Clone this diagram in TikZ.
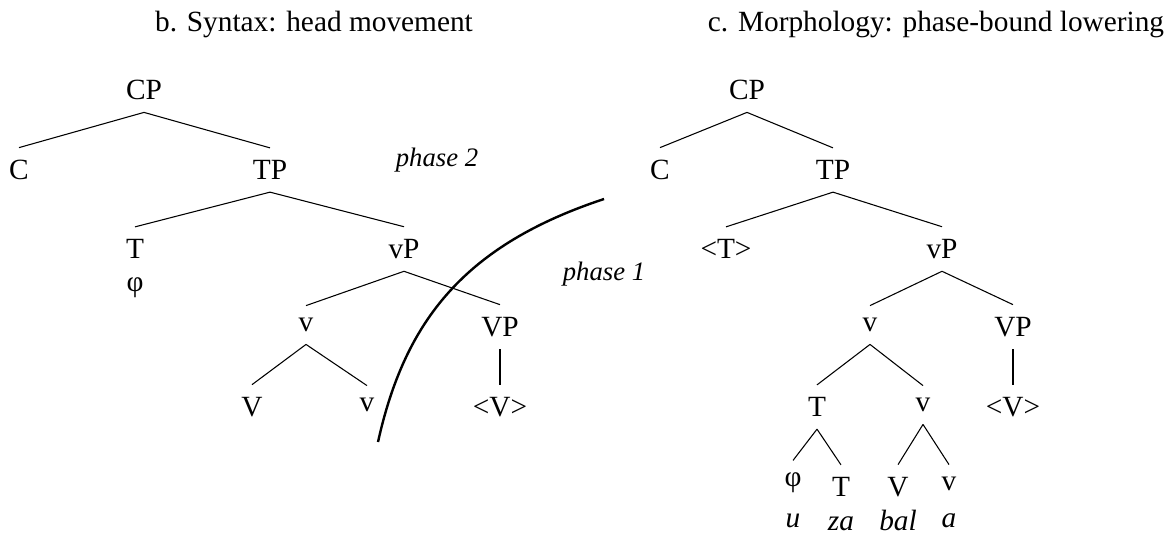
\documentclass[tikz,border=0pt]{standalone}
\usepackage{fontspec}
\setmainfont{Liberation Serif}
\usepackage{tikz}

\begin{document}
\begin{tikzpicture}[x=0.375pt,y=-0.375pt,
  cat/.style={inner sep=4.5pt,font=\fontsize{11}{13}\selectfont},
  gl/.style={inner sep=0pt,anchor=base,font=\fontsize{11}{13}\selectfont\itshape},
  lab/.style={inner sep=0pt,anchor=base,font=\fontsize{10}{12}\selectfont\itshape},
  ttl/.style={inner sep=0pt,anchor=base,font=\fontsize{11}{13}\selectfont},
  br/.style={line width=0.4pt},
  bd/.style={line width=0.9pt}]
  \useasboundingbox (0,0) rectangle (1168,533);
  % titles
  \node[ttl] (sttl) at (314,31) {b. Syntax: head movement};
  \node[ttl] (mttl) at (936,31) {c. Morphology: phase-bound lowering};
  % b. syntax tree
  \node[cat] (sCP) at (144,90) {CP};
  \node[cat] (sC) at (19,170) {C};
  \node[cat] (sTP) at (270,170) {TP};
  \node[cat] (sT) at (135,249) {T};
  \node[cat] (sphi) at (135,288) {φ};
  \node[cat] (svP) at (404,249) {vP};
  \node[cat] (sv) at (306,325) {v};
  \node[cat] (sVP) at (500,327) {VP};
  \node[cat] (sV) at (252,407) {V};
  \node[cat] (svv) at (367,405) {v};
  \node[cat] (sVtr) at (500,407) {<V>};
  \draw[br] (sCP.south) -- (sC.north);
  \draw[br] (sCP.south) -- (sTP.north);
  \draw[br] (sTP.south) -- (sT.north);
  \draw[br] (sTP.south) -- (svP.north);
  \draw[br] (svP.south) -- (sv.north);
  \draw[br] (svP.south) -- (sVP.north);
  \draw[br] (sv.south) -- (sV.north);
  \draw[br] (sv.south) -- (svv.north);
  \draw[br] (sVP.south) -- (sVtr.north);
  % phase boundary
  \node[lab] (ph2) at (437,166) {phase 2};
  \node[lab] (ph1) at (604,280) {phase 1};
  \draw[bd] (378,442) .. controls (405,320) and (465,245) .. (604,199);
  % c. morphology tree
  \node[cat] (mCP) at (747,90) {CP};
  \node[cat] (mC) at (660,170) {C};
  \node[cat] (mTP) at (833,170) {TP};
  \node[cat] (mTtr) at (726,249) {<T>};
  \node[cat] (mvP) at (942,249) {vP};
  \node[cat] (mv) at (870,325) {v};
  \node[cat] (mVP) at (1013,327) {VP};
  \node[cat] (mT) at (817,407) {T};
  \node[cat] (mvv) at (923,405) {v};
  \node[cat] (mVtr) at (1013,407) {<V>};
  \node[cat] (mphi) at (793,483) {φ};
  \node[cat] (mTT) at (841,487) {T};
  \node[cat] (mV) at (898,487) {V};
  \node[cat] (mvl) at (949,484) {v};
  \node[gl] (mu) at (793,527) {u};
  \node[gl] (mza) at (841,530) {za};
  \node[gl] (mbal) at (898,530) {bal};
  \node[gl] (ma) at (949,527) {a};
  \draw[br] (mCP.south) -- (mC.north);
  \draw[br] (mCP.south) -- (mTP.north);
  \draw[br] (mTP.south) -- (mTtr.north);
  \draw[br] (mTP.south) -- (mvP.north);
  \draw[br] (mvP.south) -- (mv.north);
  \draw[br] (mvP.south) -- (mVP.north);
  \draw[br] (mv.south) -- (mT.north);
  \draw[br] (mv.south) -- (mvv.north);
  \draw[br] (mVP.south) -- (mVtr.north);
  \draw[br] (mT.south) -- (mphi.north);
  \draw[br] (mT.south) -- (mTT.north);
  \draw[br] (mvv.south) -- (mV.north);
  \draw[br] (mvv.south) -- (mvl.north);
\end{tikzpicture}
\end{document}
